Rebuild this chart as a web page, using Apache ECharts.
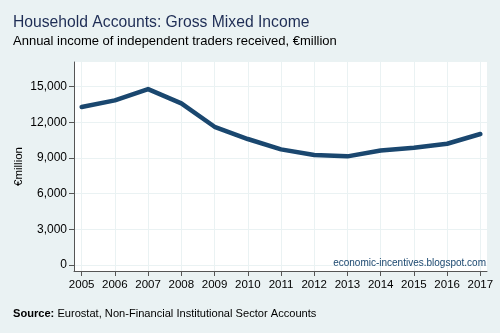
<!DOCTYPE html>
<html><head><meta charset="utf-8">
<script src="https://cdn.jsdelivr.net/npm/echarts@6/dist/echarts.min.js"></script>
<style>html,body{margin:0;padding:0;background:#eaf2f3;}#c{width:500px;height:333px;}</style>
</head><body><div id="c"></div>
<script>
const years = [2005,2006,2007,2008,2009,2010,2011,2012,2013,2014,2015,2016,2017];
const income = [13300,13850,14800,13600,11630,10600,9730,9250,9140,9640,9870,10200,11020];
const yTicks = [0,3000,6000,9000,12000,15000];

const chart = echarts.init(document.getElementById('c'), null, {renderer:'canvas'});
const font = 'Liberation Sans, Arial, sans-serif';
chart.setOption({
  backgroundColor:'#eaf2f3',
  animation:false,
  title:[
    {text:'Household Accounts: Gross Mixed Income', left:8, top:10, padding:5,
     textStyle:{fontFamily:font, fontSize:15.7, fontWeight:'normal', color:'#1e2d55'}},
    {text:'Annual income of independent traders received, €million', left:8, top:30, padding:5,
     textStyle:{fontFamily:font, fontSize:13, fontWeight:'normal', color:'#000'}},
    {text:'{b|Source:} Eurostat, Non-Financial Institutional Sector Accounts', left:8, top:303, padding:5,
     textStyle:{fontFamily:font, fontSize:11.1, fontWeight:'normal', color:'#000',
       rich:{b:{fontFamily:font, fontSize:11.1, fontWeight:'bold', color:'#000'}}}},
    {text:'economic-incentives.blogspot.com', right:9, top:253, padding:5,
     textStyle:{fontFamily:font, fontSize:10, fontWeight:'normal', color:'#1a476f'}}
  ],
  grid:{left:74, right:13, top:62, bottom:62, show:true, backgroundColor:'#fff', borderWidth:0},
  xAxis:{type:'value', min:2004.77, max:2017.2,
    axisLine:{show:true, onZero:false, lineStyle:{color:'#555', width:1}},
    axisTick:{show:true, length:5, customValues:years, lineStyle:{color:'#555'}},
    axisLabel:{customValues:years, fontFamily:font, fontSize:11.5, color:'#000', margin:8,
      formatter:v=>String(v)},
    splitLine:{show:true, customValues:years, lineStyle:{color:'#eaf2f3', width:1}}
  },
  yAxis:{type:'value', min:-505, max:17080,
    name:'€million', nameLocation:'middle', nameGap:49, nameRotate:90, nameMoveOverlap:false,
    nameTextStyle:{fontFamily:font, fontSize:11.5, color:'#000'},
    axisLine:{show:true, lineStyle:{color:'#555', width:1}},
    axisTick:{show:true, length:5, customValues:yTicks, lineStyle:{color:'#555'}},
    axisLabel:{customValues:yTicks, fontFamily:font, fontSize:12, color:'#000', margin:7,
      formatter:v=>v.toLocaleString('en-US')},
    splitLine:{show:true, customValues:yTicks, lineStyle:{color:'#eaf2f3', width:1}}
  },
  series:[{type:'line', data:years.map((y,i)=>[y,income[i]]), showSymbol:false,
    lineStyle:{color:'#1a476f', width:4.5, cap:'round', join:'round'}}]
});
</script></body></html>
